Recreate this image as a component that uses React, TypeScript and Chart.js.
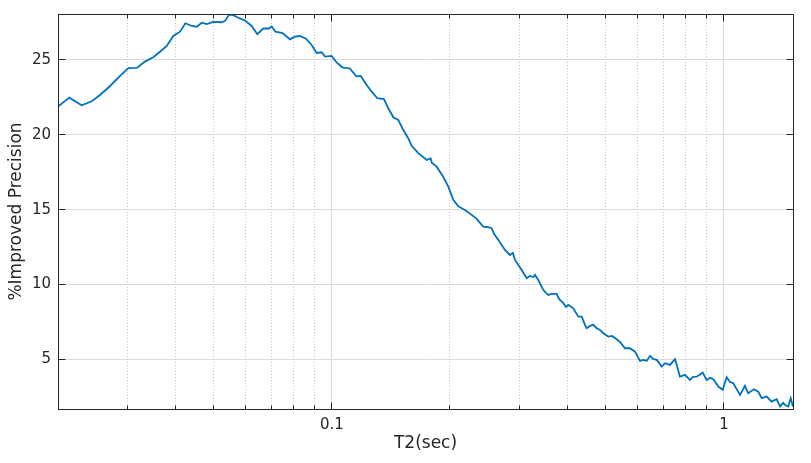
import React, { useEffect, useRef } from "react";
import { Chart, registerables } from "chart.js";

Chart.register(...registerables);

// ---- Data ----
const t2Seconds: number[] = [
  0.0200, 0.02137, 0.02298, 0.02438, 0.02560, 0.02716, 0.02880, 0.03024, 0.03177, 0.03334,
  0.03501, 0.03641, 0.03788, 0.03938, 0.04096, 0.04227, 0.04388, 0.04519, 0.04654, 0.04793,
  0.04982, 0.05233, 0.05334, 0.05470, 0.05600, 0.05733, 0.06000, 0.06240, 0.06448, 0.06680,
  0.06908, 0.07019, 0.07178, 0.07478, 0.07815, 0.08048, 0.08288, 0.08583, 0.08875, 0.09142,
  0.09413, 0.09597, 0.0998, 0.1028, 0.1062, 0.1111, 0.1153, 0.1184, 0.1226, 0.1263,
  0.1305, 0.1357, 0.1392, 0.1434, 0.1476, 0.1520, 0.1565, 0.1597, 0.1660, 0.1744,
  0.1785, 0.1799, 0.1849, 0.1922, 0.1980, 0.2039, 0.2096, 0.2142, 0.2184, 0.2272,
  0.2339, 0.2432, 0.2486, 0.2555, 0.2590, 0.2656, 0.2762, 0.2845, 0.2895, 0.2930,
  0.3047, 0.3138, 0.3199, 0.3262, 0.3295, 0.3359, 0.3459, 0.3515, 0.3563, 0.3641,
  0.3743, 0.3795, 0.3892, 0.3954, 0.4008, 0.4127, 0.4250, 0.4335, 0.4420, 0.4464,
  0.4552, 0.4641, 0.4735, 0.4827, 0.4922, 0.5068, 0.5180, 0.5325, 0.5429, 0.5590,
  0.5757, 0.5929, 0.6107, 0.6216, 0.6352, 0.6476, 0.6592, 0.6737, 0.6938, 0.7073,
  0.7283, 0.7499, 0.7588, 0.7721, 0.7951, 0.8189, 0.8334, 0.8518, 0.8824, 0.9034,
  0.9211, 0.9391, 0.9672, 0.9925, 1.016, 1.036, 1.056, 1.080, 1.099, 1.131,
  1.153, 1.193, 1.223, 1.248, 1.285, 1.323, 1.363, 1.390, 1.415, 1.431,
  1.459, 1.480, 1.500,
];

const improvedPrecision: number[] = [
  21.88, 22.48, 21.97, 22.24, 22.66, 23.26, 23.93, 24.45, 24.47, 24.89,
  25.18, 25.55, 25.94, 26.60, 26.89, 27.45, 27.27, 27.22, 27.49, 27.40,
  27.54, 27.52, 27.61, 28.03, 27.99, 27.85, 27.63, 27.27, 26.72, 27.10,
  27.10, 27.24, 26.89, 26.80, 26.38, 26.56, 26.60, 26.42, 26.00, 25.47,
  25.51, 25.22, 25.27, 24.83, 24.51, 24.43, 23.90, 23.93, 23.33, 22.88,
  22.44, 22.39, 21.77, 21.17, 20.99, 20.32, 19.77, 19.26, 18.77, 18.32,
  18.42, 18.12, 17.87, 17.20, 16.54, 15.65, 15.25, 15.09, 14.98, 14.65,
  14.38, 13.86, 13.84, 13.76, 13.38, 12.98, 12.31, 11.97, 12.11, 11.64,
  10.97, 10.42, 10.57, 10.50, 10.64, 10.30, 9.64, 9.44, 9.30, 9.37,
  9.37, 9.03, 8.75, 8.50, 8.63, 8.41, 7.85, 7.85, 7.30, 7.08,
  7.23, 7.30, 7.08, 6.96, 6.74, 6.52, 6.56, 6.34, 6.16, 5.74,
  5.74, 5.51, 4.89, 4.96, 4.91, 5.23, 5.03, 4.96, 4.51, 4.74,
  4.63, 5.01, 4.56, 3.84, 3.96, 3.62, 3.82, 3.84, 4.11, 3.62,
  3.76, 3.67, 3.18, 2.96, 3.80, 3.49, 3.40, 2.96, 2.62, 3.23,
  2.74, 3.00, 2.84, 2.40, 2.51, 2.17, 2.33, 1.85, 2.09, 1.95,
  1.85, 2.40, 1.85,
];

const xMajorTicks: number[] = [0.1, 1];
const xMinorTicks: number[] = [
  0.02, 0.03, 0.04, 0.05, 0.06, 0.07, 0.08, 0.09,
  0.2, 0.3, 0.4, 0.5, 0.6, 0.7, 0.8, 0.9,
];
const yTicks: number[] = [5, 10, 15, 20, 25];
const xLimits: number[] = [0.02, 1.5];
const yLimits: number[] = [1.68, 28.07];

const xLabel = "T2(sec)";
const yLabel = "%Improved Precision";

const FONT = "'DejaVu Sans', sans-serif";
const TEXT = "#262626";

const framePlugin = {
  id: "matlabFrame",
  beforeDatasetsDraw(chart: any) {
    const { ctx, chartArea: a, scales } = chart;
    const x = scales.x;
    const y = scales.y;
    const snap = (v: number) => Math.floor(v) + 0.5;
    ctx.save();
    ctx.lineWidth = 1;
    ctx.strokeStyle = "#dcdcdc";
    ctx.setLineDash([]);
    for (const v of yTicks) {
      const p = snap(y.getPixelForValue(v));
      ctx.beginPath();
      ctx.moveTo(a.left, p);
      ctx.lineTo(a.right, p);
      ctx.stroke();
    }
    for (const v of xMajorTicks) {
      const p = snap(x.getPixelForValue(v));
      ctx.beginPath();
      ctx.moveTo(p, a.top);
      ctx.lineTo(p, a.bottom);
      ctx.stroke();
    }
    ctx.strokeStyle = "#c4c4c4";
    ctx.setLineDash([1, 2]);
    for (const v of xMinorTicks) {
      const p = snap(x.getPixelForValue(v));
      ctx.beginPath();
      ctx.moveTo(p, a.top);
      ctx.lineTo(p, a.bottom);
      ctx.stroke();
    }
    ctx.restore();
  },
  afterDatasetsDraw(chart: any) {
    const { ctx, chartArea: a, scales } = chart;
    const x = scales.x;
    const y = scales.y;
    const snap = (v: number) => Math.floor(v) + 0.5;
    const L = snap(a.left);
    const R = snap(a.right);
    const T = snap(a.top);
    const B = snap(a.bottom);
    ctx.save();
    ctx.setLineDash([]);
    ctx.strokeStyle = TEXT;
    ctx.lineWidth = 1;
    ctx.strokeRect(L, T, R - L, B - T);
    const major = 7;
    const minor = 4;
    ctx.beginPath();
    for (const v of yTicks) {
      const p = snap(y.getPixelForValue(v));
      ctx.moveTo(L, p);
      ctx.lineTo(L + major, p);
      ctx.moveTo(R, p);
      ctx.lineTo(R - major, p);
    }
    for (const v of xMajorTicks) {
      const p = snap(x.getPixelForValue(v));
      ctx.moveTo(p, B);
      ctx.lineTo(p, B - major);
      ctx.moveTo(p, T);
      ctx.lineTo(p, T + major);
    }
    for (const v of xMinorTicks) {
      const p = snap(x.getPixelForValue(v));
      ctx.moveTo(p, B);
      ctx.lineTo(p, B - minor);
      ctx.moveTo(p, T);
      ctx.lineTo(p, T + minor);
    }
    ctx.stroke();
    ctx.restore();
  },
};

export default function App() {
  const canvasRef = useRef<HTMLCanvasElement | null>(null);

  useEffect(() => {
    const canvas = canvasRef.current;
    if (!canvas) return;
    const points = t2Seconds.map((t, i) => ({ x: t, y: improvedPrecision[i] }));
    const chart = new Chart(canvas, {
      type: "line",
      data: {
        datasets: [
          {
            data: points,
            borderColor: "#0072BD",
            borderWidth: 1.8,
            pointRadius: 0,
            fill: false,
            tension: 0,
          },
        ],
      },
      options: {
        animation: false,
        responsive: false,
        devicePixelRatio: 1,
        layout: { padding: { top: 14, right: 18, left: 0, bottom: 0 } },
        plugins: {
          legend: { display: false },
          tooltip: { enabled: false },
        },
        scales: {
          x: {
            type: "logarithmic",
            position: "bottom",
            min: xLimits[0],
            max: xLimits[1],
            grid: { display: false, drawTicks: false },
            border: { display: false },
            afterBuildTicks: (scale: any) => {
              scale.ticks = xMajorTicks.map((v) => ({ value: v }));
            },
            afterFit: (scale: any) => {
              scale.height = 54;
              scale.paddingLeft = 0;
              scale.paddingRight = 0;
            },
            ticks: {
              autoSkip: false,
              maxRotation: 0,
              padding: 7,
              color: TEXT,
              font: { family: FONT, size: 15 },
              callback: (value: any) => String(value),
            },
            title: {
              display: true,
              text: xLabel,
              color: TEXT,
              font: { family: FONT, size: 17 },
              padding: { bottom: 9, top: 0 },
            },
          },
          y: {
            type: "linear",
            position: "left",
            min: yLimits[0],
            max: yLimits[1],
            grid: { display: false, drawTicks: false },
            border: { display: false },
            afterBuildTicks: (scale: any) => {
              scale.ticks = yTicks.map((v) => ({ value: v }));
            },
            afterFit: (scale: any) => {
              scale.width = 58;
              scale.paddingTop = 0;
              scale.paddingBottom = 0;
            },
            ticks: {
              autoSkip: false,
              padding: 7,
              color: TEXT,
              font: { family: FONT, size: 15 },
              callback: (value: any) => String(value),
            },
            title: {
              display: true,
              text: yLabel,
              color: TEXT,
              font: { family: FONT, size: 17 },
              padding: { top: 6, bottom: 0 },
            },
          },
        },
      },
      plugins: [framePlugin],
    });
    return () => chart.destroy();
  }, []);

  return (
    <div style={{ position: "fixed", left: 0, top: 0, width: 811, height: 463, background: "#ffffff" }}>
      <canvas ref={canvasRef} width={811} height={463} style={{ display: "block" }} />
    </div>
  );
}
